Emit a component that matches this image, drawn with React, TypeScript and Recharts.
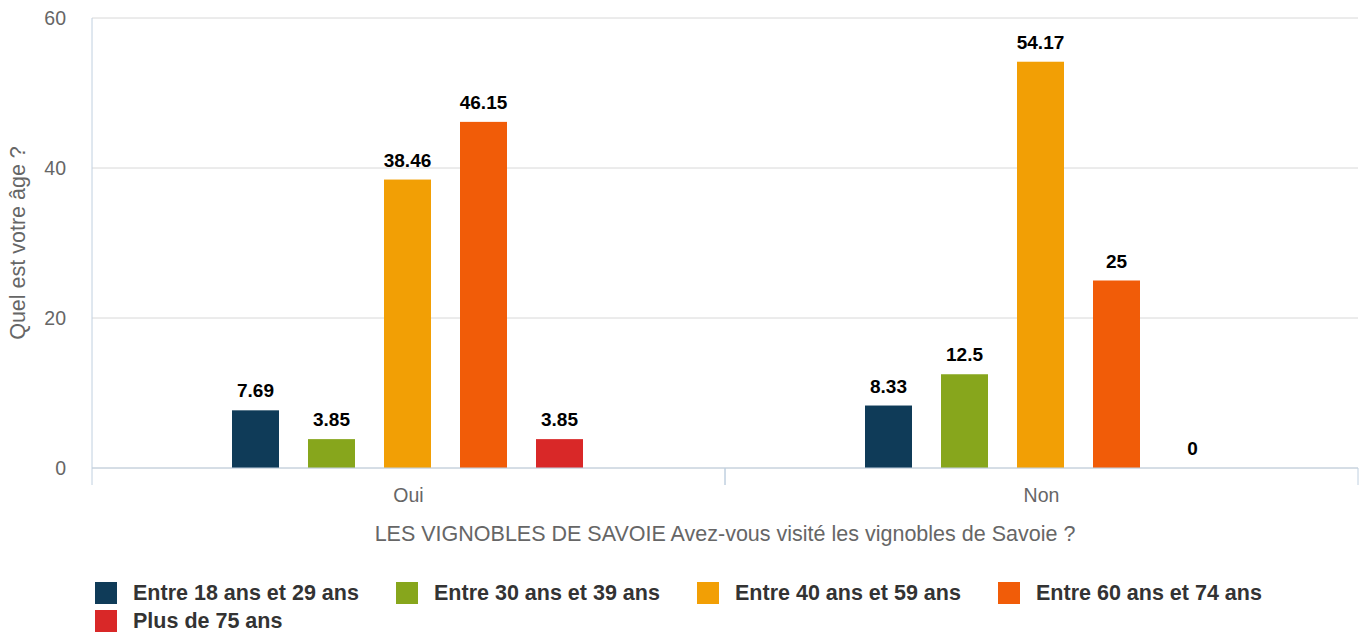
import React from 'react';
import { BarChart, Bar, XAxis, YAxis, CartesianGrid } from 'recharts';

// Réponses à "Avez-vous visité les vignobles de Savoie ?"
const categories = ['Oui', 'Non'];
const ageGroups = [
    'Entre 18 ans et 29 ans',
    'Entre 30 ans et 39 ans',
    'Entre 40 ans et 59 ans',
    'Entre 60 ans et 74 ans',
    'Plus de 75 ans',
];
const colors = ['#0F3B58', '#87A61C', '#F29F05', '#F15C08', '#D92828'];

const age18_29 = [7.69, 8.33];
const age30_39 = [3.85, 12.5];
const age40_59 = [38.46, 54.17];
const age60_74 = [46.15, 25];
const age75plus = [3.85, 0];
const seriesValues = [age18_29, age30_39, age40_59, age60_74, age75plus];

const yTicks = [0, 20, 40, 60];

const data = categories.map((name, i) => {
    const row: Record<string, string | number> = { name };
    seriesValues.forEach((vals, s) => {
        row[`s${s}`] = vals[i];
    });
    return row;
});

const FONT = '"Liberation Sans", Arial, Helvetica, sans-serif';
const AXIS_COLOR = '#C0D0E0';

const CategoryTick = (props: any) => {
    const { x, y, payload } = props;
    const half = payload?.offset ?? 316.5;
    return (
        <g>
            <line x1={x - half} x2={x - half} y1={y} y2={y + 17} stroke={AXIS_COLOR} strokeWidth={1} />
            <line x1={x + half} x2={x + half} y1={y} y2={y + 17} stroke={AXIS_COLOR} strokeWidth={1} />
            <text x={x} y={y + 34} textAnchor="middle" fill="#666666" fontSize={19.5} fontFamily={FONT}>
                {payload.value}
            </text>
        </g>
    );
};

const XTitle = (props: any) => {
    const { viewBox } = props;
    return (
        <text
            x={viewBox.x + viewBox.width / 2}
            y={viewBox.y + 73}
            textAnchor="middle"
            fill="#666666"
            fontSize={21.5}
            fontFamily={FONT}
        >
            LES VIGNOBLES DE SAVOIE Avez-vous visité les vignobles de Savoie ?
        </text>
    );
};

const YTitle = (props: any) => {
    const { viewBox } = props;
    const cx = 25;
    const cy = viewBox.y + viewBox.height / 2;
    return (
        <text
            x={cx}
            y={cy}
            transform={`rotate(-90 ${cx} ${cy})`}
            textAnchor="middle"
            fill="#666666"
            fontSize={21.5}
            fontFamily={FONT}
        >
            Quel est votre âge ?
        </text>
    );
};

// bar + value label drawn together so that zero bars still get their "0"
const BarWithLabel = (props: any) => {
    const { x, y, width, height, fill, value } = props;
    const v = Array.isArray(value) ? value[1] - value[0] : value;
    return (
        <g>
            {height > 0 && <rect x={x} y={y} width={width} height={height} fill={fill} />}
            <text
                x={x + width / 2}
                y={y - 13}
                textAnchor="middle"
                fill="#000000"
                fontSize={19}
                fontWeight="bold"
                fontFamily={FONT}
            >
                {v}
            </text>
        </g>
    );
};

export default function App() {
    return (
        <div style={{ position: 'absolute', left: 0, top: 0, width: 1367, height: 635, background: '#fff', fontFamily: FONT }}>
            <BarChart
                width={1367}
                height={560}
                data={data}
                margin={{ top: 18, right: 9, left: 0, bottom: 0 }}
                barCategoryGap={140}
                barGap={29}
            >
                <CartesianGrid vertical={false} stroke="#D8D8D8" />
                <XAxis
                    dataKey="name"
                    height={92}
                    tickSize={0}
                    tickMargin={0}
                    tickLine={false}
                    stroke={AXIS_COLOR}
                    tick={<CategoryTick />}
                    label={<XTitle />}
                />
                <YAxis
                    width={92}
                    domain={[0, 60]}
                    ticks={yTicks}
                    tickSize={0}
                    tickMargin={26}
                    tickLine={false}
                    stroke={AXIS_COLOR}
                    tick={{ fill: '#666666', fontSize: 19.5, fontFamily: FONT }}
                    label={<YTitle />}
                />
                {ageGroups.map((g, s) => (
                    <Bar
                        key={g}
                        dataKey={`s${s}`}
                        name={g}
                        fill={colors[s]}
                        shape={<BarWithLabel />}
                        isAnimationActive={false}
                    />
                ))}
            </BarChart>
            <div style={{ position: 'absolute', left: 95, top: 582, width: 1260, display: 'flex', flexWrap: 'wrap', rowGap: 6 }}>
                {ageGroups.map((g, s) => (
                    <div key={g} style={{ width: 301, display: 'flex', alignItems: 'center', height: 22 }}>
                        <span style={{ width: 22, height: 22, background: colors[s], display: 'inline-block', marginRight: 16, flexShrink: 0 }} />
                        <span style={{ fontSize: 21.5, fontWeight: 'bold', color: '#333333', whiteSpace: 'nowrap' }}>{g}</span>
                    </div>
                ))}
            </div>
        </div>
    );
}
